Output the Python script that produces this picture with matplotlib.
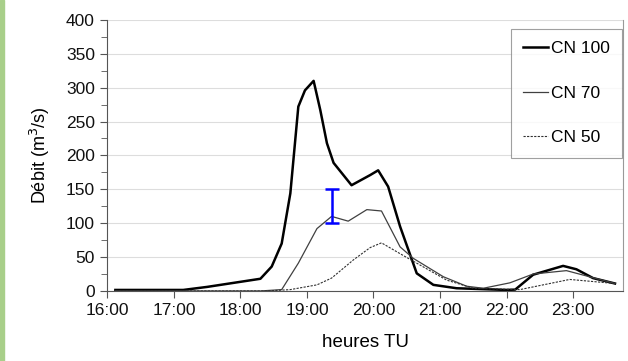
import numpy as np
import matplotlib.pyplot as plt
from matplotlib.ticker import MultipleLocator, FuncFormatter
from matplotlib.patches import Rectangle

plt.rcParams['font.family'] = ['Liberation Sans', 'DejaVu Sans']

# heures décimales et débits (m3/s)
t_cn100 = [16.12, 17.14, 17.5, 18.3, 18.47, 18.62, 18.75, 18.87, 18.97, 19.1, 19.2, 19.3,
           19.4, 19.67, 19.95, 20.07, 20.22, 20.4, 20.65, 20.9, 21.25, 22.0, 22.13, 22.4,
           22.85, 23.05, 23.3, 23.63]
q_cn100 = [1.5, 1.5, 6, 18, 36, 70, 144, 272, 296, 310, 267, 218,
           189, 156, 171, 178, 154, 95, 26, 9, 4, 1.5, 2, 24,
           37, 32, 19, 11]

t_cn70 = [16.12, 18.3, 18.62, 18.87, 19.15, 19.37, 19.62, 19.9, 20.12, 20.4, 20.6, 21.05,
          21.4, 21.65, 22.05, 22.4, 22.9, 23.63]
q_cn70 = [0, 0, 2, 41, 92, 110, 103, 120, 118, 65, 48, 21,
          7, 4, 12, 25, 30, 11]

t_cn50 = [16.12, 18.4, 18.75, 19.15, 19.37, 19.7, 19.95, 20.12, 20.4, 20.65, 21.1, 21.5,
          22.2, 22.95, 23.63]
q_cn50 = [0, 0, 2, 9, 19, 46, 64, 71, 55, 41, 16, 4,
          2, 17, 11]

# barre d'incertitude
err_t = 19.37
err_q = 125
err_dq = 25

fig = plt.figure(figsize=(6.28, 3.61), dpi=100)
ax = fig.add_axes([0.171, 0.194, 0.821, 0.751])

ax.plot(t_cn100, q_cn100, color='black', lw=1.8, label='CN 100')
ax.plot(t_cn70, q_cn70, color='#404040', lw=0.9, label='CN 70')
ax.plot(t_cn50, q_cn50, color='#303030', lw=0.8, ls=(0, (2, 1.2)), label='CN 50')
ax.errorbar([err_t], [err_q], yerr=[err_dq], color='#0000ff', lw=1.8, capsize=5,
            capthick=1.8)

ax.set_xlim(16, 23.75)
ax.set_ylim(0, 400)
ax.xaxis.set_major_locator(MultipleLocator(1))
ax.xaxis.set_major_formatter(FuncFormatter(lambda v, p: '%d:00' % int(round(v))))
ax.yaxis.set_major_locator(MultipleLocator(50))
ax.yaxis.set_minor_locator(MultipleLocator(25))
ax.grid(axis='y', which='major', color='#dddddd', lw=0.8)
ax.set_axisbelow(True)

ax.spines['top'].set_visible(False)
ax.spines['right'].set_color('#999999')
ax.spines['left'].set_color('#555555')
ax.spines['bottom'].set_color('#555555')
ax.tick_params(axis='both', which='both', color='#555555', length=5, labelsize=12.5,
               labelcolor='#111111', pad=4)
ax.tick_params(axis='y', which='minor', length=4)

ax.set_xlabel('heures TU', fontsize=13.5, labelpad=11)
ax.set_ylabel('Débit (m$^3$/s)', fontsize=13, labelpad=10)

leg = ax.legend(loc='upper right', bbox_to_anchor=(0.998, 0.967), fontsize=12.5,
                frameon=True, fancybox=False, handlelength=1.45, handletextpad=0.15,
                labelspacing=1.7, borderpad=0.7, borderaxespad=0)
leg.get_frame().set_edgecolor('#888888')
leg.get_frame().set_linewidth(0.8)

# bande d'image en bordure gauche
fig.patches.append(Rectangle((0, 0), 0.007, 1, transform=fig.transFigure,
                             color='#a8cf8a', zorder=-1))

fig.savefig('out.png', dpi=100)
